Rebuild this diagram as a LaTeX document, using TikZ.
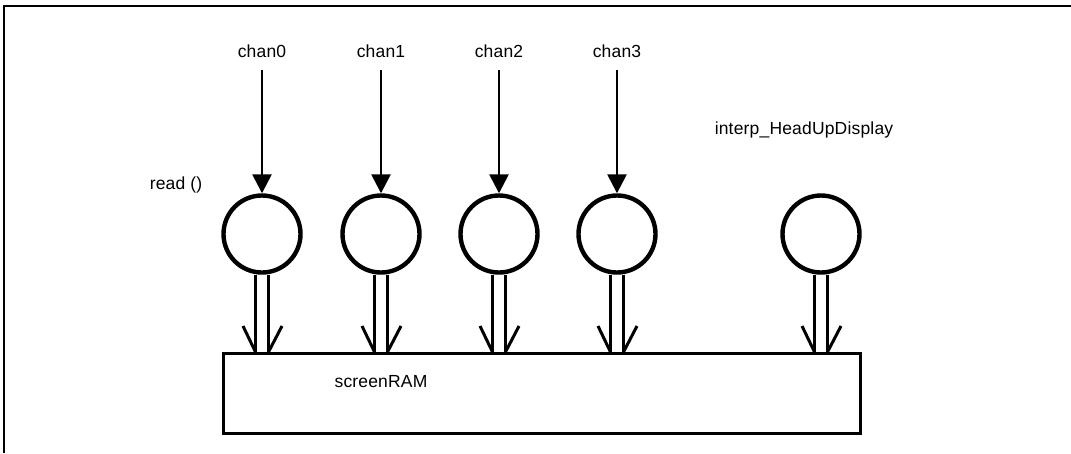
\documentclass[tikz,border=0pt]{standalone}
\usepackage{fontspec}
\setmainfont[LetterSpace=1]{Liberation Sans}
\usetikzlibrary{arrows.meta}
\begin{document}
\begin{tikzpicture}[x=1pt,y=-1pt,
  proc/.style={circle,draw,line width=4.4pt,minimum size=77pt,inner sep=0pt},
  lbl/.style={font=\fontsize{17.5}{21}\selectfont,inner sep=0pt},
  inarrow/.style={line width=2.6pt,-{Triangle[length=19pt,width=19pt]}},
  rail/.style={line width=3pt},
  ramstyle/.style={draw,line width=3pt,minimum width=637pt,minimum height=80pt,inner sep=0pt,anchor=north west}]
\useasboundingbox (0,0) rectangle (1071,453);
\draw[line width=2.4pt] (4,453) -- (4,6) -- (1071,6);
\node[ramstyle] (ram) at (222,352) {};
\node[lbl] (ramlbl) at (381,382) {screenRAM};
\foreach \i/\x in {0/262,1/381,2/499,3/617}{
  \node[proc] (c\i) at (\x,234) {};
  \node[lbl] (t\i) at (\x,51) {chan\i};
  \coordinate (s\i) at (\x,70);
  \draw[inarrow] (s\i) -- (c\i.north);
}
\node[proc] (c4) at (821,234) {};
\node[lbl] (hud) at (804,130) {interp\_HeadUpDisplay};
\node[lbl] (rd) at (176,185) {read ()};
\foreach \i in {0,1,2,3,4}{
  \draw[rail] ([xshift=-6.5pt]c\i.south) -- ([xshift=-6.5pt]c\i.south |- ram.north);
  \draw[rail] ([xshift=6.5pt]c\i.south) -- ([xshift=6.5pt]c\i.south |- ram.north);
  \draw[rail] ([xshift=-19pt,yshift=26pt]c\i.south |- ram.north) -- ([xshift=-6.5pt]c\i.south |- ram.north);
  \draw[rail] ([xshift=20pt,yshift=26pt]c\i.south |- ram.north) -- ([xshift=6.5pt]c\i.south |- ram.north);
}
\end{tikzpicture}
\end{document}
